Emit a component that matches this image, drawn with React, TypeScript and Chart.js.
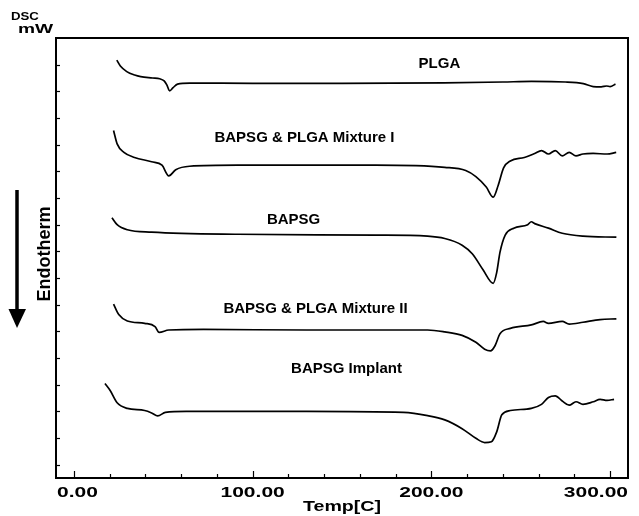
import React, { useEffect, useRef } from 'react';
import { Chart, registerables } from 'chart.js';
Chart.register(...registerables);

// Temperature [C] and heat flow (arbitrary mW offsets)
const plgaT = [24.0, 26.0, 29.6, 34.0, 37.4, 44.0, 48.0, 50.5, 52.0, 53.6, 55.5, 58.0, 64.8, 100, 150, 207, 240, 256, 275, 285, 290.5, 295, 298, 300, 303];
const plgaV = [15.67, 15.45, 15.24, 15.11, 15.05, 15.0, 14.97, 14.89, 14.74, 14.52, 14.64, 14.77, 14.81, 14.8, 14.8, 14.82, 14.85, 14.87, 14.85, 14.79, 14.68, 14.67, 14.7, 14.68, 14.77];

const mix1T = [22.2, 24.2, 28.0, 33.9, 43.5, 49.3, 53.1, 57.0, 64.7, 91.6, 168.9, 207.5, 219.2, 224.9, 230.7, 234.6, 237.4, 240.4, 244.2, 252.0, 257.8, 261.6, 265.5, 269.3, 273.2, 277.1, 280.9, 284.8, 290.5, 298.3, 303.4];
const mix1V = [13.03, 12.53, 12.21, 12.02, 11.86, 11.73, 11.33, 11.56, 11.69, 11.73, 11.73, 11.65, 11.53, 11.3, 10.91, 10.53, 10.98, 11.63, 11.89, 12.02, 12.17, 12.28, 12.15, 12.28, 12.08, 12.21, 12.08, 12.15, 12.17, 12.15, 12.21];

const bapsgT = [21.3, 24.2, 29.9, 43.5, 91.7, 168.9, 197.9, 207.5, 217.2, 223.0, 228.8, 234.6, 236.5, 238.4, 241.3, 246.1, 253.9, 255.9, 257.8, 265.5, 273.2, 284.8, 303.5];
const bapsgV = [9.76, 9.5, 9.31, 9.22, 9.14, 9.11, 9.07, 8.98, 8.73, 8.4, 7.82, 7.3, 7.69, 8.47, 9.11, 9.37, 9.5, 9.61, 9.54, 9.37, 9.18, 9.07, 9.03];

const mix2T = [22.2, 25.1, 29.9, 39.6, 45.4, 47.7, 53.1, 72.5, 130.3, 197.9, 207.5, 217.2, 224.9, 229.8, 233.1, 235.6, 238.4, 244.2, 255.9, 262.6, 265.5, 273.2, 277.1, 284.8, 294.4, 303.5];
const mix2V = [6.52, 6.13, 5.89, 5.8, 5.68, 5.46, 5.55, 5.57, 5.55, 5.55, 5.48, 5.35, 5.09, 4.83, 4.77, 4.96, 5.41, 5.61, 5.74, 5.87, 5.8, 5.87, 5.77, 5.84, 5.94, 5.97];

const implT = [17.4, 20.3, 24.2, 29.9, 39.6, 43.5, 46.9, 51.2, 62.8, 130.3, 184.4, 197.9, 207.5, 217.2, 224.9, 229.8, 233.6, 236.5, 239.4, 244.2, 255.9, 261.6, 265.5, 269.3, 273.2, 277.1, 280.9, 284.8, 290.6, 294.4, 298.3, 302.2];
const implV = [3.54, 3.28, 2.82, 2.61, 2.53, 2.44, 2.33, 2.46, 2.5, 2.5, 2.46, 2.34, 2.18, 1.85, 1.49, 1.33, 1.36, 1.72, 2.37, 2.53, 2.61, 2.76, 3.02, 3.08, 2.89, 2.73, 2.86, 2.76, 2.86, 2.95, 2.91, 2.95];

const seriesNames = ['PLGA', 'BAPSG & PLGA Mixture I', 'BAPSG', 'BAPSG & PLGA Mixture II', 'BAPSG Implant'];
const labelT = [204.5, 129, 122.9, 135.2, 152.5];
const labelV = [15.52, 12.75, 9.67, 6.36, 4.09];

const xMajorTicks = [0, 100, 200, 300];
const xMinorTicks = [0, 20, 40, 60, 80, 100, 120, 140, 160, 180, 200, 220, 240, 260, 280, 300];
const yTicks = [0.5, 1.5, 2.5, 3.5, 4.5, 5.5, 6.5, 7.5, 8.5, 9.5, 10.5, 11.5, 12.5, 13.5, 14.5, 15.5];

const xTitle = 'Temp[C]';
const yTitle1 = 'DSC';
const yTitle2 = 'mW';
const sideLabel = 'Endotherm';

const FONT = "'Liberation Sans', Arial, sans-serif";

function pts(t: number[], v: number[]) {
  return t.map((x, i) => ({ x, y: v[i] }));
}

function stretchText(ctx: CanvasRenderingContext2D, text: string, x: number, y: number, sx: number, align: 'left' | 'center' | 'right') {
  const w = ctx.measureText(text).width * sx;
  let left = x;
  if (align === 'center') left = x - w / 2;
  if (align === 'right') left = x - w;
  ctx.save();
  ctx.translate(left, y);
  ctx.scale(sx, 1);
  ctx.textAlign = 'left';
  ctx.fillText(text, 0, 0);
  ctx.restore();
  return w;
}

const decorPlugin = {
  id: 'decor',
  afterDraw(chart: any) {
    const ctx: CanvasRenderingContext2D = chart.ctx;
    const xs = chart.scales.x;
    const ys = chart.scales.y;
    const { left, right, top, bottom } = chart.chartArea;
    ctx.save();
    ctx.strokeStyle = '#000';
    ctx.fillStyle = '#000';
    // frame
    ctx.lineWidth = 2;
    ctx.strokeRect(left, top, right - left, bottom - top);
    // x ticks (inward)
    ctx.lineWidth = 1.2;
    xMinorTicks.forEach((t) => {
      const px = Math.round(xs.getPixelForValue(t)) + 0.5;
      const len = xMajorTicks.includes(t) ? 7 : 4;
      ctx.beginPath();
      ctx.moveTo(px, bottom);
      ctx.lineTo(px, bottom - len);
      ctx.stroke();
    });
    // y ticks (inward)
    yTicks.forEach((v) => {
      const py = Math.round(ys.getPixelForValue(v)) + 0.5;
      ctx.beginPath();
      ctx.moveTo(left, py);
      ctx.lineTo(left + 4, py);
      ctx.stroke();
    });
    // x tick labels
    ctx.font = `bold 14px ${FONT}`;
    ctx.textBaseline = 'alphabetic';
    const sx = 1.5;
    xMajorTicks.forEach((t) => {
      const label = t.toFixed(2);
      const w = ctx.measureText(label).width * sx;
      let cx = xs.getPixelForValue(t);
      if (cx - w / 2 < left + 1) cx = left + 1 + w / 2;
      if (cx + w / 2 > right) cx = right - w / 2;
      stretchText(ctx, label, cx, bottom + 19, sx, 'center');
    });
    // x title
    stretchText(ctx, xTitle, (left + right) / 2, bottom + 33, 1.4, 'center');
    // DSC / mW
    ctx.font = `bold 11px ${FONT}`;
    stretchText(ctx, yTitle1, 11, 20, 1.2, 'left');
    ctx.font = `bold 12px ${FONT}`;
    stretchText(ctx, yTitle2, 18, 33, 1.6, 'left');
    // Endotherm arrow
    ctx.lineWidth = 3.5;
    ctx.beginPath();
    ctx.moveTo(17, 190);
    ctx.lineTo(17, 312);
    ctx.stroke();
    ctx.beginPath();
    ctx.moveTo(8.5, 309);
    ctx.lineTo(26, 309);
    ctx.lineTo(17, 328);
    ctx.closePath();
    ctx.fill();
    ctx.save();
    ctx.translate(50, 254);
    ctx.rotate(-Math.PI / 2);
    ctx.font = `bold 18px ${FONT}`;
    ctx.textAlign = 'center';
    ctx.textBaseline = 'alphabetic';
    ctx.fillText(sideLabel, 0, 0);
    ctx.restore();
    // curve labels
    ctx.font = `bold 15px ${FONT}`;
    ctx.textAlign = 'center';
    ctx.textBaseline = 'middle';
    seriesNames.forEach((name, i) => {
      ctx.fillText(name, xs.getPixelForValue(labelT[i]), ys.getPixelForValue(labelV[i]));
    });
    ctx.restore();
  },
};

export default function App() {
  const ref = useRef<HTMLCanvasElement | null>(null);
  useEffect(() => {
    if (!ref.current) return;
    const allT = [plgaT, mix1T, bapsgT, mix2T, implT];
    const allV = [plgaV, mix1V, bapsgV, mix2V, implV];
    const chart = new Chart(ref.current, {
      type: 'line',
      data: {
        datasets: seriesNames.map((name, i) => ({
          label: name,
          data: pts(allT[i], allV[i]),
          borderColor: '#000',
          borderWidth: 1.7,
          pointRadius: 0,
          fill: false,
          cubicInterpolationMode: 'monotone' as const,
        })),
      },
      options: {
        animation: false,
        responsive: true,
        maintainAspectRatio: false,
        layout: { padding: { left: 56, right: 11, top: 38, bottom: 38 } },
        plugins: { legend: { display: false }, tooltip: { enabled: false } },
        scales: {
          x: { type: 'linear', min: -10, max: 310, display: false },
          y: { type: 'linear', min: 0, max: 16.5, display: false },
        },
      },
      plugins: [decorPlugin],
    });
    return () => chart.destroy();
  }, []);
  return (
    <div style={{ position: 'fixed', left: 0, top: 0, width: 639, height: 516, background: '#fff' }}>
      <canvas ref={ref} />
    </div>
  );
}
